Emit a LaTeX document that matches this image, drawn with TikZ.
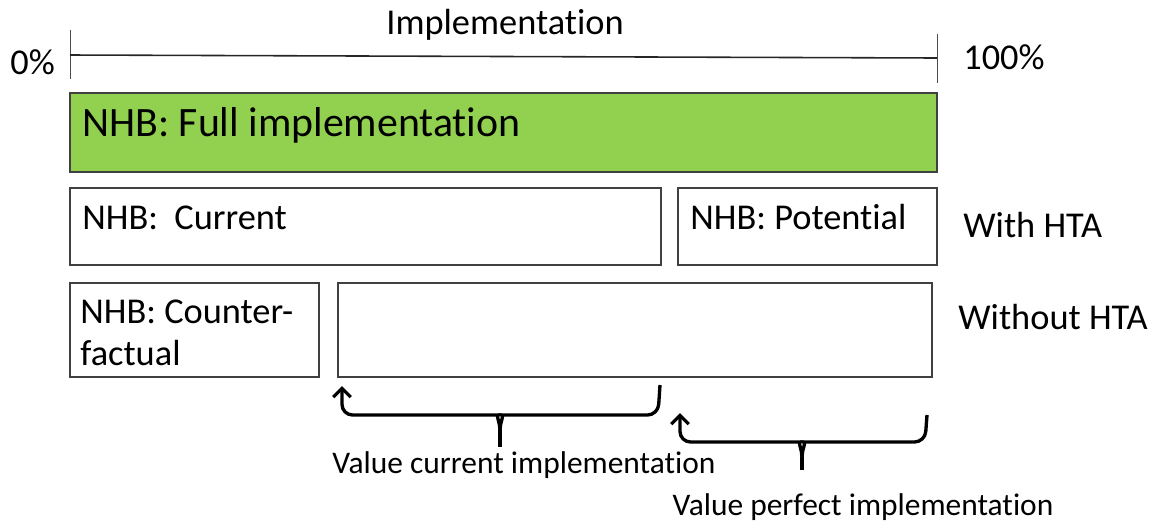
\documentclass[tikz,border=0pt]{standalone}
\usepackage{fontspec}
\setmainfont[Ligatures=NoCommon]{Carlito}
\usetikzlibrary{arrows.meta,fit}
\definecolor{fullgreen}{RGB}{146,208,80}

\begin{document}
\begin{tikzpicture}[x=0.02cm,y=-0.02cm,
  box/.style={draw=black!75,line width=0.6pt,inner sep=0pt},
  txt/.style={anchor=base west,inner sep=0pt,font=\fontsize{20.7}{24}\selectfont},
  small/.style={anchor=base,inner sep=0pt,font=\fontsize{17.9}{21}\selectfont},
  tick/.style={line width=0.5pt,black!70},
  brace/.style={line width=1.9pt,rounded corners=6pt},
  barb/.style={{Straight Barb[length=5pt,width=10pt]}-},
  ]
\useasboundingbox (0,0) rectangle (1156,525);

% scale line
\coordinate (zero) at (70,55);
\coordinate (hundred) at (937,58);
\draw[tick] (70,30) -- (70,79);
\draw[tick] (937,34) -- (937,83);
\draw[line width=0.9pt,black!85] (zero) -- (hundred);
\node[txt,anchor=base] (impl) at (505,34) {Implementation};
\node[txt] (pct0) at (10,74) {0\%};
\node[txt] (pct100) at (963,69) {100\%};

% boxes
\node[box,fill=fullgreen,fit={(70,93) (937,172)}] (full) {};
\node[txt,font=\fontsize{23.8}{28}\selectfont] at (82,136) {NHB: Full implementation};

\node[box,fit={(70,188) (661,265)}] (current) {};
\node[txt] at (82,229) {NHB:\ \ Current};
\node[box,fit={(678,188) (937,265)}] (potential) {};
\node[txt] at (690,229) {NHB: Potential};
\node[txt] (with) at (963,237) {With HTA};

\node[box,fit={(70,283) (319,377)}] (counter) {};
\node[txt] at (80,323) {NHB: Counter-};
\node[txt] at (80,365) {factual};
\node[box,fit={(338,283) (932,377)}] (gap) {};
\node[txt] (without) at (958,329) {Without HTA};

% braces
\coordinate (vc-tip) at (342,386);
\coordinate (vc-end) at (660,385);
\coordinate (vc-mid) at (500,430);
\coordinate (vc-foot) at (500,447);
\draw[brace,barb] (vc-tip) -- (342,415) -- (488,415) to[out=0,in=90] (vc-mid);
\draw[brace] (vc-end) -- (658,415) -- (512,415) to[out=180,in=90] (vc-mid);
\draw[brace] (vc-mid) -- (vc-foot);
\node[small] (valcur) at (524,473) {Value current implementation};

\coordinate (vp-tip) at (680,413);
\coordinate (vp-end) at (927,415);
\coordinate (vp-mid) at (802,457);
\coordinate (vp-foot) at (802,470);
\draw[brace,barb] (vp-tip) -- (680,442) -- (790,442) to[out=0,in=90] (vp-mid);
\draw[brace] (vp-end) -- (925,442) -- (814,442) to[out=180,in=90] (vp-mid);
\draw[brace] (vp-mid) -- (vp-foot);
\node[small] (valperf) at (863,515) {Value perfect implementation};
\end{tikzpicture}
\end{document}
